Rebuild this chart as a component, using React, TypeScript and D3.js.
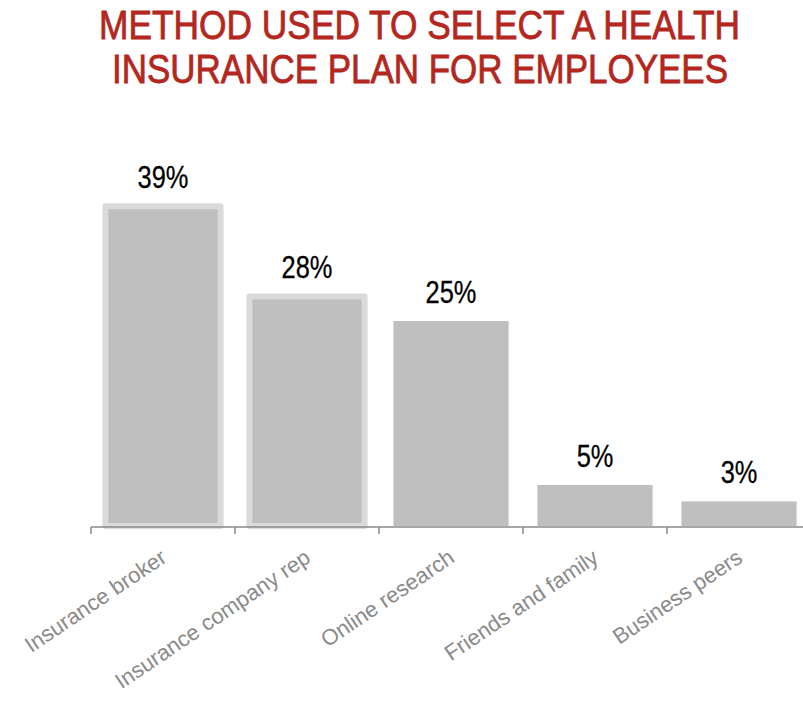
import React, { useLayoutEffect, useRef, useState } from "react";
import * as d3 from "d3";

const titleLines = ["METHOD USED TO SELECT A HEALTH", "INSURANCE PLAN FOR EMPLOYEES"];
const categories = ["Insurance broker", "Insurance company rep", "Online research", "Friends and family", "Business peers"];
const values = [39, 28, 25, 5, 3];
const highlighted = [true, true, false, false, false];
const valueLabels = ["39%", "28%", "25%", "5%", "3%"];

const W = 803;
const H = 713;

const titleTargets = [
  { cx: 419.5, y: 39, width: 641 },
  { cx: 420, y: 83, width: 616 },
];

export default function App() {
  const x = d3.scaleBand<string>().domain(categories).range([91, 811]).paddingInner(0.2).paddingOuter(0.1);
  const y = d3.scaleLinear().domain([0, 40]).range([526, 198]);
  const step = x.step();
  const bw = x.bandwidth();
  const baseY = 527;
  const tickXs = d3.range(categories.length + 1).map((i) => 91 + i * step);

  const titleRefs = useRef<(SVGTextElement | null)[]>([]);
  const [titleScales, setTitleScales] = useState<number[]>([0.87, 0.875]);

  useLayoutEffect(() => {
    const s = titleRefs.current.map((el, i) => {
      if (!el) return 0.87;
      const w = el.getComputedTextLength();
      return w > 0 ? titleTargets[i].width / w : 0.87;
    });
    setTitleScales(s);
  }, []);

  return (
    <svg width={W} height={H} style={{ position: "absolute", left: 0, top: 0, background: "#fff" }}>
      <g fill="#b3271e" stroke="#b3271e" strokeWidth={0.8} fontFamily="'Liberation Sans', Arial, sans-serif" fontSize={40} textAnchor="middle">
        {titleLines.map((t, i) => (
          <text
            key={t}
            ref={(el) => {
              titleRefs.current[i] = el;
            }}
            transform={`translate(${titleTargets[i].cx},${titleTargets[i].y}) scale(${titleScales[i]},1)`}
          >
            {t}
          </text>
        ))}
      </g>
      <g>
        {categories.map((c, i) => {
          const x0 = x(c)!;
          const top = y(values[i]);
          const h = y(0) - top;
          return highlighted[i] ? (
            <rect key={c} x={x0} y={top} width={bw} height={h} fill="#bfbfbf" stroke="#dadada" strokeWidth={6} strokeLinejoin="round" />
          ) : (
            <rect key={c} x={x0} y={top} width={bw} height={h} fill="#bfbfbf" />
          );
        })}
      </g>
      <g stroke="#8a8a8a" strokeWidth={1.5} fill="none">
        <line x1={91} x2={W} y1={baseY} y2={baseY} />
        {tickXs.map((t, i) => (
          <line key={i} x1={t} x2={t} y1={baseY} y2={baseY + 7} />
        ))}
      </g>
      <g fontFamily="'Liberation Sans', Arial, sans-serif" fontSize={31} fill="#000" stroke="#000" strokeWidth={0.3} textAnchor="middle">
        {categories.map((c, i) => (
          <text key={c} transform={`translate(${x(c)! + bw / 2},${y(values[i]) - 18}) scale(0.82,1)`}>
            {valueLabels[i]}
          </text>
        ))}
      </g>
      <g fontFamily="'Liberation Sans', Arial, sans-serif" fontSize={22} fill="#8a8a8a" textAnchor="end">
        {categories.map((c) => {
          const cx = x(c)! + bw / 2 + 5;
          const cy = 561;
          return (
            <text key={c} transform={`translate(${cx},${cy}) rotate(-34)`}>
              {c}
            </text>
          );
        })}
      </g>
    </svg>
  );
}
